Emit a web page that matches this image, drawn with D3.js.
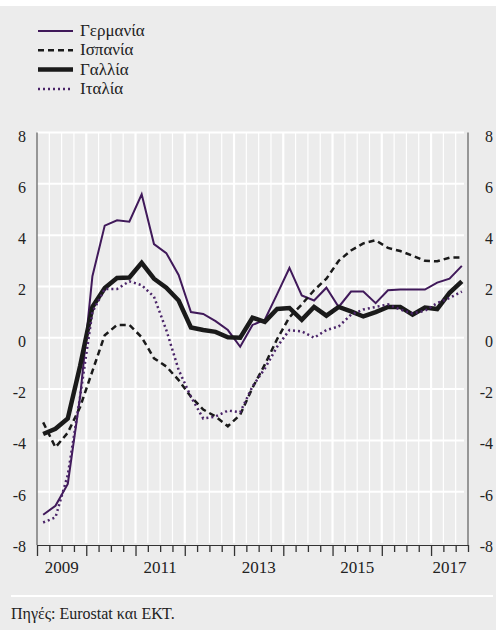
<!DOCTYPE html>
<meta charset="utf-8">
<body style="margin:0">
<script src="https://d3js.org/d3.v7.min.js"></script>
<script>

// quarterly data, 2009 Q1 .. 2017 Q3
var startYear = 2009;
var nQuarters = 35;
var yearLabels = [2009, 2011, 2013, 2015, 2017];
var yTicks = [-8, -6, -4, -2, 0, 2, 4, 6, 8];

var germany = [-6.9, -6.55, -5.7, -2.3, 2.4, 4.37, 4.58, 4.52, 5.59, 3.65, 3.3, 2.45, 1.0, 0.93, 0.65, 0.3, -0.35,
  0.5, 0.7, 1.7, 2.72, 1.65, 1.45, 1.95, 1.2, 1.8, 1.8, 1.35, 1.85, 1.88, 1.88, 1.88, 2.15, 2.3, 2.8];
var spain = [-3.3, -4.27, -3.7, -2.7, -1.3, 0.1, 0.5, 0.5, 0.02, -0.8, -1.12, -1.65, -2.3, -2.8, -3.07, -3.45, -3.0,
  -1.95, -1.05, -0.05, 0.8, 1.3, 1.85, 2.3, 3.0, 3.4, 3.68, 3.8, 3.5, 3.38, 3.2, 3.0, 2.98, 3.12, 3.13];
var france = [-3.75, -3.55, -3.15, -1.1, 1.2, 1.94, 2.33, 2.35, 2.92, 2.3, 1.95, 1.45, 0.4, 0.3, 0.23, 0.02, 0.0,
  0.78, 0.62, 1.12, 1.16, 0.7, 1.2, 0.86, 1.2, 1.03, 0.83, 1.0, 1.2, 1.2, 0.9, 1.18, 1.12, 1.75, 2.2];
var italy = [-7.2, -7.0, -5.35, -2.3, 1.0, 1.9, 1.9, 2.2, 2.05, 1.6, 0.3, -1.25, -2.3, -3.15, -3.07, -2.84, -2.9,
  -1.9, -1.2, -0.35, 0.3, 0.25, 0.0, 0.3, 0.44, 0.9, 1.1, 1.2, 1.3, 1.1, 0.95, 1.05, 1.35, 1.55, 1.8];

var seriesNames = ["Γερμανία", "Ισπανία", "Γαλλία", "Ιταλία"];
var source = "Πηγές: Eurostat και ΕΚΤ.";

var W = 496, H = 630;
var purple = "#40195a";

function font(size) { return "font-family: Liberation Serif; font-size: " + size + "px"; }

var series = [
  {name: seriesNames[0], values: germany, color: purple, width: 2, dash: null},
  {name: seriesNames[1], values: spain, color: "#1a1a1a", width: 2.5, dash: "6,4"},
  {name: seriesNames[2], values: france, color: "#1a1a1a", width: 4.5, dash: null},
  {name: seriesNames[3], values: italy, color: "#4a2468", width: 2.5, dash: "2,3"}
];

var svg = d3.select("body").append("svg")
    .attr("width", W)
    .attr("height", H);

// background
svg.append("rect").attr("x", 0).attr("y", 6).attr("width", W).attr("height", H - 6).attr("fill", "#ececec");

var x = d3.scaleLinear().domain([0, nQuarters]).range([37, 468]);
var y = d3.scaleLinear().domain([-8, 8]).range([543, 132.5]);

// gridlines
var grid = svg.append("g");
grid.selectAll("line.v")
    .data(d3.range(1, nQuarters))
  .enter().append("line")
    .attr("x1", function(d) { return x(d); })
    .attr("x2", function(d) { return x(d); })
    .attr("y1", y(8))
    .attr("y2", y(-8))
    .attr("stroke", "#fff")
    .attr("stroke-width", function(d) { return d % 4 == 0 ? 2.2 : 1.2; });
grid.selectAll("line.h")
    .data(yTicks.filter(function(d) { return d > -8; }))
  .enter().append("line")
    .attr("x1", x(0))
    .attr("x2", x(nQuarters) - 4)
    .attr("y1", function(d) { return y(d); })
    .attr("y2", function(d) { return y(d); })
    .attr("stroke", "#fff")
    .attr("stroke-width", 2);

// left / right axis lines
[0, nQuarters].forEach(function(q) {
  svg.append("line")
      .attr("x1", x(q)).attr("x2", x(q))
      .attr("y1", y(8)).attr("y2", y(-8) + 2)
      .attr("stroke", "#7a7a7a").attr("stroke-width", 1.5);
});

// bottom axis with quarter ticks
var xAxis = svg.append("g")
    .attr("transform", "translate(0," + (y(-8) + 2) + ")")
    .call(d3.axisBottom(x).tickValues(d3.range(0, nQuarters + 1)).tickSize(7).tickFormat(""));
xAxis.select(".domain").attr("stroke", "#333").attr("stroke-width", 1);
xAxis.selectAll(".tick line")
    .attr("stroke", "#333")
    .attr("stroke-width", 1.3)
    .attr("y2", function(d) { return d % 4 == 0 ? 11 : 7; });

// year labels, centred on the visible part of each year
svg.selectAll("text.year")
    .data(yearLabels)
  .enter().append("text")
    .attr("x", function(d) {
      var q0 = (d - startYear) * 4, q1 = Math.min(q0 + 4, nQuarters);
      return x((q0 + q1) / 2);
    })
    .attr("y", 573)
    .attr("text-anchor", "middle")
    .attr("style", font(17))
    .attr("fill", "#222")
    .text(function(d) { return d; });

// y labels both sides
[26, 493].forEach(function(lx) {
  svg.selectAll("text.ylab" + lx)
      .data(yTicks)
    .enter().append("text")
      .attr("x", lx)
      .attr("y", function(d) { return y(d) + 9; })
      .attr("text-anchor", "end")
      .attr("style", font(16))
      .attr("fill", "#222")
      .text(function(d) { return d; });
});

// lines
var line = d3.line()
    .x(function(d, i) { return x(i + 0.5); })
    .y(function(d) { return y(d); });

svg.append("g").selectAll("path")
    .data(series)
  .enter().append("path")
    .attr("fill", "none")
    .attr("d", function(d) { return line(d.values); })
    .attr("stroke", function(d) { return d.color; })
    .attr("stroke-width", function(d) { return d.width; })
    .attr("stroke-dasharray", function(d) { return d.dash; })
    .attr("stroke-linejoin", "miter");

// legend
var legend = svg.append("g").selectAll("g")
    .data(series)
  .enter().append("g")
    .attr("transform", function(d, i) { return "translate(38," + (31 + i * 19.3) + ")"; });
legend.append("line")
    .attr("x1", 0).attr("x2", 35)
    .attr("stroke", function(d) { return d.color; })
    .attr("stroke-width", function(d) { return d.width; })
    .attr("stroke-dasharray", function(d) { return d.dash; });
legend.append("text")
    .attr("x", 42)
    .attr("y", 5)
    .attr("style", font(17))
    .attr("fill", "#222")
    .text(function(d) { return d.name; });

// footer
svg.append("line")
    .attr("x1", 11).attr("x2", 493)
    .attr("y1", 596).attr("y2", 596)
    .attr("stroke", "#fff").attr("stroke-width", 2);
svg.append("text")
    .attr("x", 11)
    .attr("y", 619)
    .attr("style", font(16))
    .attr("fill", "#222")
    .text(source);

</script>
</body>
